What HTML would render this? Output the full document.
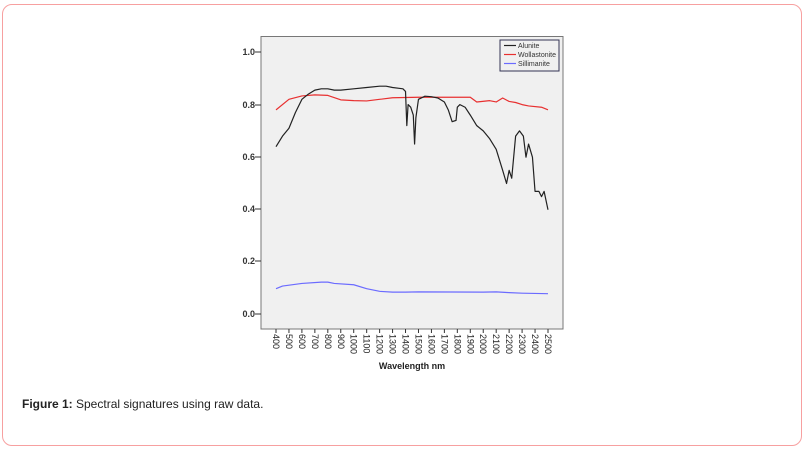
<!DOCTYPE html>
<html><head><meta charset="utf-8"><style>
html,body{margin:0;padding:0;background:#fff;}
body{width:807px;height:450px;position:relative;overflow:hidden;font-family:"Liberation Sans",sans-serif;}
.frame{position:absolute;left:2px;top:4px;width:798px;height:440px;border:1.5px solid #f7a0a0;border-radius:10px;}
.cap{position:absolute;left:22px;top:397px;font-size:12px;color:#222;}
</style></head><body>
<div class="frame"></div>
<svg width="807" height="450" style="position:absolute;left:0;top:0" font-family="Liberation Sans, sans-serif">
<rect x="261" y="36.5" width="302" height="292.5" fill="#f0f0f0" stroke="#777" stroke-width="1"/>
<g font-size="9" font-weight="bold" fill="#333" text-anchor="end">
<text x="255" y="55">1.0</text><line x1="255" y1="52" x2="261" y2="52" stroke="#333"/>
<text x="255" y="108">0.8</text><line x1="255" y1="105" x2="261" y2="105" stroke="#333"/>
<text x="255" y="160">0.6</text><line x1="255" y1="157" x2="261" y2="157" stroke="#333"/>
<text x="255" y="212">0.4</text><line x1="255" y1="209" x2="261" y2="209" stroke="#333"/>
<text x="255" y="264">0.2</text><line x1="255" y1="261" x2="261" y2="261" stroke="#333"/>
<text x="255" y="317">0.0</text><line x1="255" y1="314" x2="261" y2="314" stroke="#333"/>
</g>
<g font-size="9" fill="#222">
<g transform="translate(276,329)"><line x1="0" y1="0" x2="0" y2="4" stroke="#333"/><text transform="translate(-3,5) rotate(90)">400</text></g>
<g transform="translate(288.95,329)"><line x1="0" y1="0" x2="0" y2="4" stroke="#333"/><text transform="translate(-3,5) rotate(90)">500</text></g>
<g transform="translate(301.9,329)"><line x1="0" y1="0" x2="0" y2="4" stroke="#333"/><text transform="translate(-3,5) rotate(90)">600</text></g>
<g transform="translate(314.86,329)"><line x1="0" y1="0" x2="0" y2="4" stroke="#333"/><text transform="translate(-3,5) rotate(90)">700</text></g>
<g transform="translate(327.81,329)"><line x1="0" y1="0" x2="0" y2="4" stroke="#333"/><text transform="translate(-3,5) rotate(90)">800</text></g>
<g transform="translate(340.76,329)"><line x1="0" y1="0" x2="0" y2="4" stroke="#333"/><text transform="translate(-3,5) rotate(90)">900</text></g>
<g transform="translate(353.71,329)"><line x1="0" y1="0" x2="0" y2="4" stroke="#333"/><text transform="translate(-3,5) rotate(90)">1000</text></g>
<g transform="translate(366.67,329)"><line x1="0" y1="0" x2="0" y2="4" stroke="#333"/><text transform="translate(-3,5) rotate(90)">1100</text></g>
<g transform="translate(379.62,329)"><line x1="0" y1="0" x2="0" y2="4" stroke="#333"/><text transform="translate(-3,5) rotate(90)">1200</text></g>
<g transform="translate(392.57,329)"><line x1="0" y1="0" x2="0" y2="4" stroke="#333"/><text transform="translate(-3,5) rotate(90)">1300</text></g>
<g transform="translate(405.52,329)"><line x1="0" y1="0" x2="0" y2="4" stroke="#333"/><text transform="translate(-3,5) rotate(90)">1400</text></g>
<g transform="translate(418.48,329)"><line x1="0" y1="0" x2="0" y2="4" stroke="#333"/><text transform="translate(-3,5) rotate(90)">1500</text></g>
<g transform="translate(431.43,329)"><line x1="0" y1="0" x2="0" y2="4" stroke="#333"/><text transform="translate(-3,5) rotate(90)">1600</text></g>
<g transform="translate(444.38,329)"><line x1="0" y1="0" x2="0" y2="4" stroke="#333"/><text transform="translate(-3,5) rotate(90)">1700</text></g>
<g transform="translate(457.33,329)"><line x1="0" y1="0" x2="0" y2="4" stroke="#333"/><text transform="translate(-3,5) rotate(90)">1800</text></g>
<g transform="translate(470.29,329)"><line x1="0" y1="0" x2="0" y2="4" stroke="#333"/><text transform="translate(-3,5) rotate(90)">1900</text></g>
<g transform="translate(483.24,329)"><line x1="0" y1="0" x2="0" y2="4" stroke="#333"/><text transform="translate(-3,5) rotate(90)">2000</text></g>
<g transform="translate(496.19,329)"><line x1="0" y1="0" x2="0" y2="4" stroke="#333"/><text transform="translate(-3,5) rotate(90)">2100</text></g>
<g transform="translate(509.14,329)"><line x1="0" y1="0" x2="0" y2="4" stroke="#333"/><text transform="translate(-3,5) rotate(90)">2200</text></g>
<g transform="translate(522.1,329)"><line x1="0" y1="0" x2="0" y2="4" stroke="#333"/><text transform="translate(-3,5) rotate(90)">2300</text></g>
<g transform="translate(535.05,329)"><line x1="0" y1="0" x2="0" y2="4" stroke="#333"/><text transform="translate(-3,5) rotate(90)">2400</text></g>
<g transform="translate(548,329)"><line x1="0" y1="0" x2="0" y2="4" stroke="#333"/><text transform="translate(-3,5) rotate(90)">2500</text></g>
</g>
<text x="412" y="369" font-size="9" font-weight="bold" fill="#222" text-anchor="middle">Wavelength  nm</text>
<g transform="matrix(0.12952,0,0,-0.263,224.19,315)" fill="none" stroke-linejoin="round">
<polyline vector-effect="non-scaling-stroke" stroke="#6b6bff" stroke-width="1.2" points="400,100 450,110 600,120 750,125 800,125 850,120 1000,115 1100,100 1200,90 1300,87 1400,87 1500,88 2000,87 2100,88 2200,85 2300,83 2500,81"/>
<polyline vector-effect="non-scaling-stroke" stroke="#e83030" stroke-width="1.2" points="400,780 500,820 600,833 700,837 800,835 900,818 1000,815 1100,814 1200,820 1300,826 1400,827 1500,828 1900,828 1950,810 2050,815 2100,810 2150,825 2200,812 2250,808 2300,800 2350,795 2450,790 2500,780"/>
<polyline vector-effect="non-scaling-stroke" stroke="#222" stroke-width="1.2" points="400,640 450,680 500,710 550,770 600,820 650,840 700,855 750,860 800,860 850,855 900,855 1000,860 1100,865 1200,870 1250,870 1300,865 1350,862 1380,860 1400,850 1410,720 1420,800 1440,790 1460,760 1470,650 1480,750 1500,820 1550,832 1600,830 1650,825 1700,810 1730,780 1760,735 1790,740 1800,790 1820,800 1860,790 1900,760 1950,720 2000,700 2050,670 2100,630 2150,550 2180,500 2200,550 2220,520 2250,680 2280,700 2310,680 2330,600 2350,650 2380,600 2400,470 2430,470 2450,450 2470,470 2500,400"/>
</g>
<rect x="500" y="40" width="59" height="31" fill="#f0f0f0" stroke="#335" stroke-width="1"/>
<g font-size="7" fill="#333">
<line x1="504" y1="45.5" x2="516" y2="45.5" stroke="#222" stroke-width="1.2"/><text x="518" y="48">Alunite</text>
<line x1="504" y1="54.5" x2="516" y2="54.5" stroke="#e83030" stroke-width="1.2"/><text x="518" y="57">Wollastonite</text>
<line x1="504" y1="63.5" x2="516" y2="63.5" stroke="#6b6bff" stroke-width="1.2"/><text x="518" y="66">Sillimanite</text>
</g>
</svg>
<div class="cap"><b>Figure 1:</b> Spectral signatures using raw data.</div>
</body></html>
